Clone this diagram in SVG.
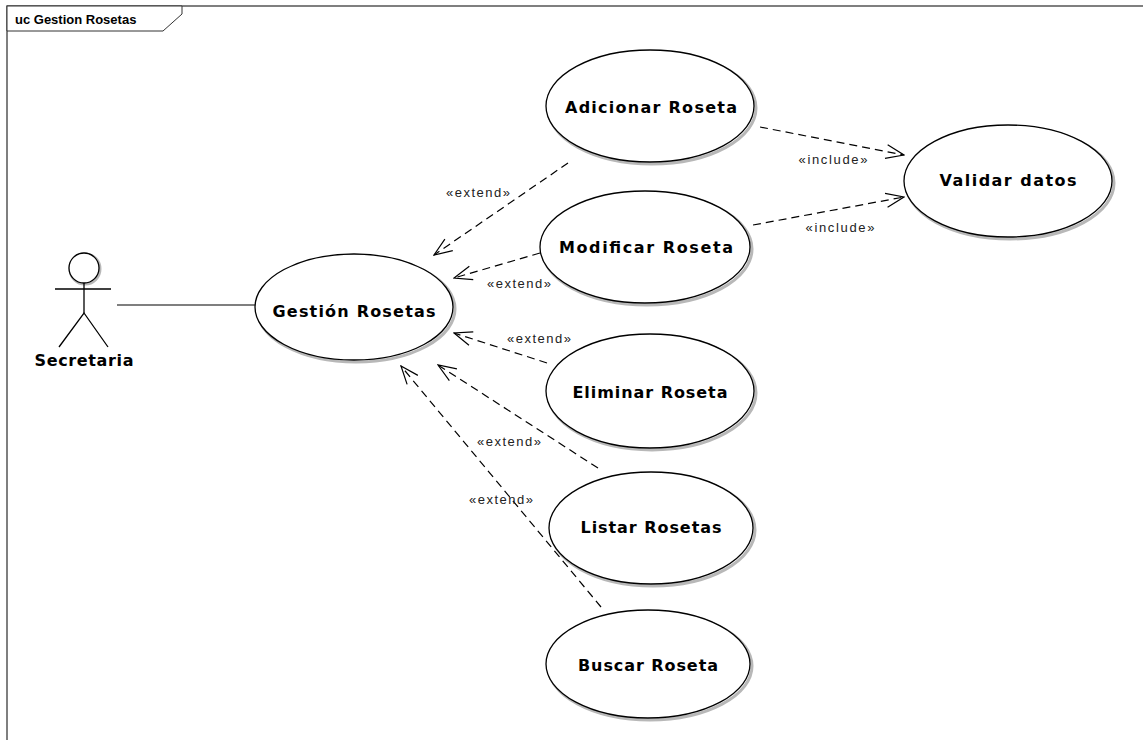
<svg xmlns="http://www.w3.org/2000/svg" width="1143" height="740" viewBox="0 0 1143 740">
  <style>
    .frame { fill: none; stroke: #555; stroke-width: 1.5; }
    .tab { fill: #fff; stroke: #333; stroke-width: 1; }
    .title { font-family: "Liberation Sans", Arial, sans-serif; font-weight: bold; font-size: 13px; fill: #000; }
    .uc { fill: #fff; stroke: #000; stroke-width: 1.3; }
    .shadow { fill: none; stroke: #b8b8b8; stroke-width: 3; }
    .name { font-family: "DejaVu Sans", Verdana, sans-serif; font-weight: bold; font-size: 16px; fill: #000; text-anchor: middle; }
    .actor { fill: none; stroke: #000; stroke-width: 1.3; }
    .head { fill: #fff; stroke: #000; stroke-width: 1.3; }
    .head-shadow { fill: none; stroke: #b8b8b8; stroke-width: 3; }
    .assoc { fill: none; stroke: #000; stroke-width: 1.2; }
    .dep { fill: none; stroke: #000; stroke-width: 1.2; stroke-dasharray: 8 5; marker-end: url(#open); }
    .lbl { font-family: "Liberation Sans", Arial, sans-serif; font-size: 13px; fill: #222; text-anchor: middle; }
  </style>
  <defs>
    <marker id="open" viewBox="0 0 20 16" refX="19" refY="8" markerWidth="20" markerHeight="16" markerUnits="userSpaceOnUse" orient="auto">
      <path d="M1,1 L19,8 L1,15" fill="none" stroke="#000" stroke-width="1.2"/>
    </marker>
  </defs>

  <!-- diagram frame -->
  <g id="frame">
    <path class="frame" d="M7,740 L7,6 L1143,6"/>
    <path class="tab" d="M7,6 L182,6 L182,14 L163,31 L7,31 Z"/>
    <text class="title" x="15" y="24">uc Gestion Rosetas</text>
  </g>

  <!-- actor -->
  <g id="secretaria">
    <circle class="head-shadow" cx="85" cy="269" r="15"/>
    <circle class="head" cx="84" cy="268" r="15"/>
    <line class="actor" x1="84" y1="283" x2="84" y2="313"/>
    <line class="actor" x1="55" y1="289" x2="111" y2="289"/>
    <path class="actor" d="M59,347 L84,313 L108,347"/>
    <text class="name" x="84" y="366" textLength="99" lengthAdjust="spacing">Secretaria</text>
  </g>

  <!-- use cases -->
  <g id="gestion-rosetas">
    <ellipse class="shadow" cx="356" cy="309" rx="99" ry="53"/>
    <ellipse class="uc" cx="354" cy="307" rx="99" ry="53"/>
    <text class="name" x="354" y="317" textLength="163" lengthAdjust="spacing">Gestión Rosetas</text>
  </g>
  <g id="adicionar-roseta">
    <ellipse class="shadow" cx="652" cy="108" rx="104" ry="56"/>
    <ellipse class="uc" cx="650" cy="106" rx="104" ry="56"/>
    <text class="name" x="651" y="113" textLength="172" lengthAdjust="spacing">Adicionar Roseta</text>
  </g>
  <g id="validar-datos">
    <ellipse class="shadow" cx="1010" cy="183" rx="104" ry="56"/>
    <ellipse class="uc" cx="1008" cy="181" rx="104" ry="56"/>
    <text class="name" x="1008" y="186" textLength="137" lengthAdjust="spacing">Validar datos</text>
  </g>
  <g id="modificar-roseta">
    <ellipse class="shadow" cx="647" cy="249" rx="105" ry="56"/>
    <ellipse class="uc" cx="645" cy="247" rx="105" ry="56"/>
    <text class="name" x="646" y="253" textLength="174" lengthAdjust="spacing">Modificar Roseta</text>
  </g>
  <g id="eliminar-roseta">
    <ellipse class="shadow" cx="652" cy="393" rx="104" ry="57"/>
    <ellipse class="uc" cx="650" cy="391" rx="104" ry="57"/>
    <text class="name" x="650" y="398" textLength="155" lengthAdjust="spacing">Eliminar Roseta</text>
  </g>
  <g id="listar-rosetas">
    <ellipse class="shadow" cx="653" cy="530" rx="102" ry="56"/>
    <ellipse class="uc" cx="651" cy="528" rx="102" ry="56"/>
    <text class="name" x="651" y="533" textLength="141" lengthAdjust="spacing">Listar Rosetas</text>
  </g>
  <g id="buscar-roseta">
    <ellipse class="shadow" cx="650" cy="666" rx="102" ry="54"/>
    <ellipse class="uc" cx="648" cy="664" rx="102" ry="54"/>
    <text class="name" x="648" y="671" textLength="140" lengthAdjust="spacing">Buscar Roseta</text>
  </g>

  <!-- connectors -->
  <g id="connectors">
    <line class="assoc" x1="117" y1="305" x2="255" y2="305"/>

    <line class="dep" x1="568" y1="163" x2="434" y2="255"/>
    <line class="dep" x1="540" y1="253" x2="454" y2="278"/>
    <line class="dep" x1="547" y1="363" x2="454" y2="333"/>
    <line class="dep" x1="598" y1="468" x2="438" y2="365"/>
    <line class="dep" x1="601" y1="607" x2="401" y2="366"/>
    <line class="dep" x1="760" y1="127" x2="904" y2="155"/>
    <line class="dep" x1="753" y1="225" x2="904" y2="197"/>

    <text class="lbl" x="478" y="197" textLength="64" lengthAdjust="spacing">«extend»</text>
    <text class="lbl" x="519" y="288" textLength="64" lengthAdjust="spacing">«extend»</text>
    <text class="lbl" x="539" y="343" textLength="64" lengthAdjust="spacing">«extend»</text>
    <text class="lbl" x="509" y="446" textLength="64" lengthAdjust="spacing">«extend»</text>
    <text class="lbl" x="501" y="504" textLength="64" lengthAdjust="spacing">«extend»</text>
    <text class="lbl" x="833" y="164" textLength="69" lengthAdjust="spacing">«include»</text>
    <text class="lbl" x="840" y="232" textLength="69" lengthAdjust="spacing">«include»</text>
  </g>
</svg>
